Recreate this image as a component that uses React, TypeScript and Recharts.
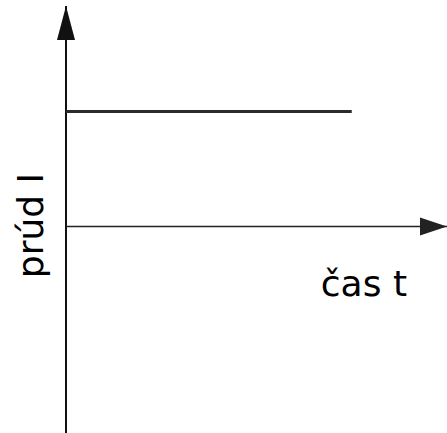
import React from "react"
import { LineChart, Line, XAxis, YAxis, ReferenceLine } from "recharts"

// time axis (arbitrary units) and the constant current drawn on it
const times = [0, 3]
const current = [1, 1]
const xDomain = [0, 4]
const yDomain = [-1.8, 1.92]
const xTitle = "čas t"
const yTitle = "prúd I"

const FONT = "'DejaVu Sans', Verdana, sans-serif"

const data = times.map((t, i) => ({ t, i: current[i] }))

function XTitle({ viewBox }: any) {
  const x = viewBox.x + viewBox.width - 40
  const y = viewBox.y + 70
  return (
    <text x={x} y={y} textAnchor="end" fontFamily={FONT} fontSize={36} fill="#000">
      {xTitle}
    </text>
  )
}

function YTitle({ viewBox }: any) {
  const x = viewBox.x - 23
  const y = viewBox.y + viewBox.height / 2 + 6
  return (
    <text
      x={x}
      y={y}
      textAnchor="middle"
      fontFamily={FONT}
      fontSize={36}
      fill="#000"
      transform={`rotate(-90 ${x} ${y})`}
    >
      {yTitle}
    </text>
  )
}

export default function App() {
  return (
    <div style={{ position: "absolute", left: 0, top: 0, background: "#fff" }}>
      <LineChart width={447} height={433} data={data} margin={{ top: 6, right: 0, bottom: 0, left: 66 }}>
        <defs>
          <marker id="arrowY" markerUnits="userSpaceOnUse" markerWidth={36} markerHeight={20}
            viewBox="0 0 36 20" refX={34} refY={10} orient="auto">
            <path d="M0,1 L34,10 L0,19 Z" fill="#111" />
          </marker>
          <marker id="arrowX" markerUnits="userSpaceOnUse" markerWidth={30} markerHeight={20}
            viewBox="0 0 30 20" refX={27} refY={10} orient="auto">
            <path d="M0,1 L27,10 L0,19 Z" fill="#222" />
          </marker>
        </defs>
        <XAxis dataKey="t" type="number" domain={xDomain} hide allowDataOverflow />
        <YAxis type="number" domain={yDomain} hide allowDataOverflow />
        <ReferenceLine
          segment={[{ x: 0, y: yDomain[0] }, { x: 0, y: yDomain[1] }]}
          stroke="#111"
          strokeWidth={2}
          markerEnd="url(#arrowY)"
          ifOverflow="visible"
          label={<YTitle />}
        />
        <ReferenceLine
          segment={[{ x: xDomain[0], y: 0 }, { x: xDomain[1], y: 0 }]}
          stroke="#222"
          strokeWidth={1.5}
          markerEnd="url(#arrowX)"
          ifOverflow="visible"
          label={<XTitle />}
        />
        <Line
          type="linear"
          dataKey="i"
          stroke="#2b2b2b"
          strokeWidth={3}
          dot={false}
          isAnimationActive={false}
        />
      </LineChart>
    </div>
  )
}
